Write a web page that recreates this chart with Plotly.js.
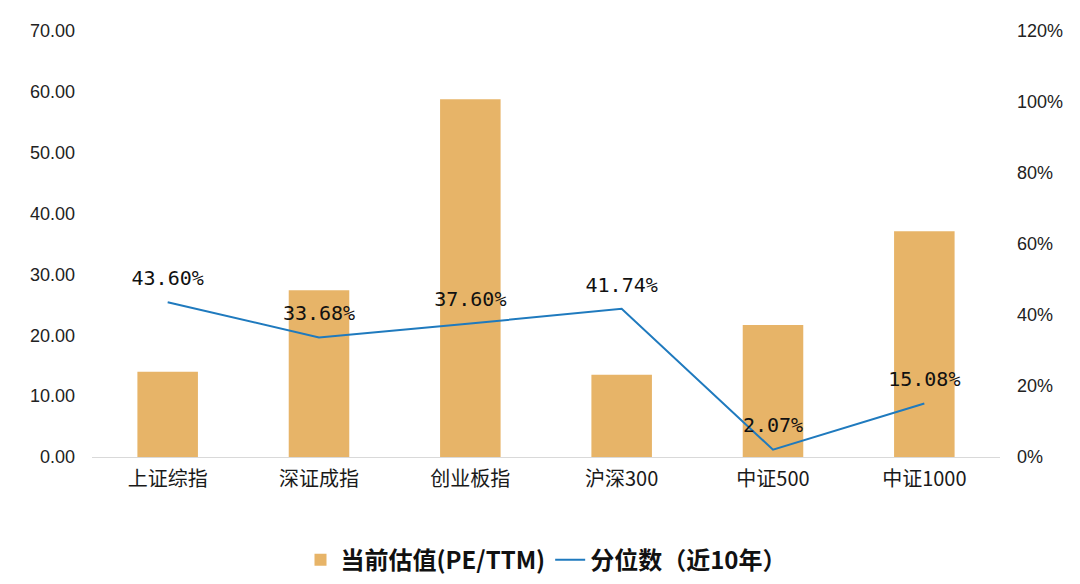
<!DOCTYPE html>
<html>
<head>
<meta charset="utf-8">
<script src="https://cdn.plot.ly/plotly-3.0.1.min.js"></script>
<style>html,body{margin:0;padding:0;background:#fff;}#chart{width:1080px;height:584px;}</style>
</head>
<body>
<div id="chart"></div>
<script>
const categories = ['上证综指', '深证成指', '创业板指', '沪深300', '中证500', '中证1000'];
const peValues = [14.0, 27.4, 58.8, 13.5, 21.7, 37.1];
const percentileValues = [0.4360, 0.3368, 0.3760, 0.4174, 0.0207, 0.1508];
const percentileLabels = ['43.60%', '33.68%', '37.60%', '41.74%', '2.07%', '15.08%'];
const leftTickVals = [0, 10, 20, 30, 40, 50, 60, 70];
const rightTickVals = [0, 0.2, 0.4, 0.6, 0.8, 1.0, 1.2];

const barTrace = {
  type: 'bar',
  name: '当前估值(PE/TTM)',
  x: categories,
  y: peValues,
  marker: {color: 'rgb(231,180,104)'},
  width: 0.4,
  yaxis: 'y',
  hoverinfo: 'x+y'
};
const lineTrace = {
  type: 'scatter',
  mode: 'lines+markers+text',
  name: '分位数（近10年）',
  x: categories,
  y: percentileValues,
  text: percentileLabels,
  textposition: 'top center',
  textfont: {family: 'DejaVu Sans Mono, monospace', size: 20, color: '#111'},
  line: {color: 'rgb(31,122,190)', width: 2},
  marker: {size: 18, color: 'rgba(0,0,0,0)'},
  yaxis: 'y2',
  cliponaxis: false
};

const layout = {
  width: 1080,
  height: 584,
  margin: {l: 92, r: 80, t: 31, b: 127, autoexpand: false},
  paper_bgcolor: '#ffffff',
  plot_bgcolor: '#ffffff',
  showlegend: true,
  bargap: 0.6,
  font: {family: 'Noto Sans CJK SC, sans-serif', color: '#222'},
  xaxis: {
    type: 'category',
    showgrid: false,
    showline: true,
    linecolor: '#d9d9d9',
    linewidth: 1,
    ticks: '',
    automargin: false,
    tickfont: {family: 'Noto Sans CJK SC, sans-serif', size: 20, color: '#1a1a1a'},
    ticklabelstandoff: 4
  },
  yaxis: {
    range: [0, 70],
    tickvals: leftTickVals,
    tickformat: '.2f',
    showgrid: false,
    zeroline: false,
    showline: false,
    ticks: '',
    automargin: false,
    ticklabelstandoff: 16,
    tickfont: {family: 'Liberation Sans, Arial, sans-serif', size: 18, color: '#222'}
  },
  yaxis2: {
    overlaying: 'y',
    side: 'right',
    range: [0, 1.2],
    tickvals: rightTickVals,
    tickformat: '.0%',
    showgrid: false,
    zeroline: false,
    showline: false,
    ticks: '',
    automargin: false,
    ticklabelstandoff: 16,
    tickfont: {family: 'Liberation Sans, Arial, sans-serif', size: 18, color: '#222'}
  },
  legend: {
    orientation: 'h',
    x: 0.5,
    xanchor: 'center',
    y: -0.242,
    yanchor: 'middle',
    font: {family: 'Noto Sans CJK SC, sans-serif', size: 24, color: '#111', weight: 'bold'},
    itemwidth: 30,
    bgcolor: 'rgba(0,0,0,0)'
  }
};

Plotly.newPlot('chart', [barTrace, lineTrace], layout, {displayModeBar: false, staticPlot: true});
</script>
</body>
</html>
